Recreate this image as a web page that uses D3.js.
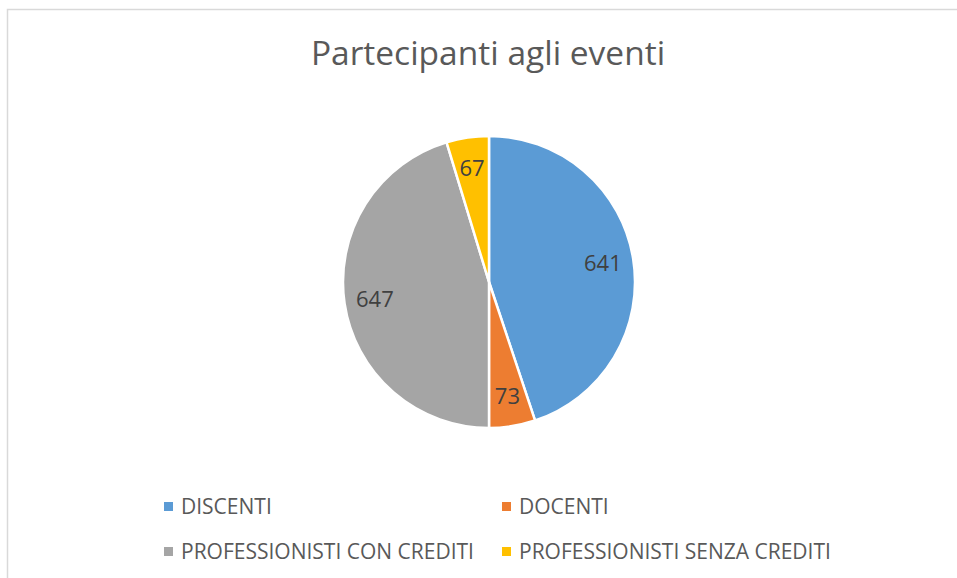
<!DOCTYPE html>
<html><head><meta charset="utf-8">
<script src="https://cdn.jsdelivr.net/npm/d3@7"></script>
<style>body{margin:0;background:#fff}svg{display:block}</style>
</head><body>
<svg id="c" width="957" height="578"></svg>
<script>
const categories = ["DISCENTI", "DOCENTI", "PROFESSIONISTI CON CREDITI", "PROFESSIONISTI SENZA CREDITI"];
const values = [641, 73, 647, 67];
const colors = ["#5B9BD5", "#ED7D31", "#A5A5A5", "#FFC000"];
const title = "Partecipanti agli eventi";

const svg = d3.select("#c");
const font = "'Open Sans', sans-serif";

svg.append("rect").attr("x", 7.5).attr("y", 9.5).attr("width", 1000).attr("height", 1000)
  .attr("fill", "#fff").attr("stroke", "#d9d9d9").attr("stroke-width", 1.5);

svg.append("text").attr("x", 488).attr("y", 65).attr("text-anchor", "middle")
  .attr("font-family", font).attr("font-size", 33.5).attr("fill", "#595959").text(title);

const cx = 489, cy = 282, r = 146;
const pie = d3.pie().sort(null).value(d => d)(values);
const arc = d3.arc().innerRadius(0).outerRadius(r);
const g = svg.append("g").attr("transform", `translate(${cx},${cy})`);
g.selectAll("path").data(pie).join("path")
  .attr("d", arc).attr("fill", (d, i) => colors[i])
  .attr("stroke", "#fff").attr("stroke-width", 2.5).attr("stroke-linejoin", "round");

const labelArc = d3.arc().innerRadius(r * 0.79).outerRadius(r * 0.79);
g.selectAll("text.lbl").data(pie).join("text").attr("class", "lbl")
  .attr("transform", d => `translate(${labelArc.centroid(d)})`)
  .attr("text-anchor", "middle").attr("dy", "0.36em")
  .attr("font-family", font).attr("font-size", 22).attr("fill", "#404040")
  .text(d => d.data);

const legX = [164, 502], legY = [506.5, 551.5];
const leg = svg.selectAll("g.leg").data(categories).join("g").attr("class", "leg")
  .attr("transform", (d, i) => `translate(${legX[i % 2]},${legY[Math.floor(i / 2)]})`);
leg.append("rect").attr("x", 0).attr("y", -4.5).attr("width", 9).attr("height", 9)
  .attr("fill", (d, i) => colors[i]);
leg.append("text").attr("x", 17).attr("dy", "0.36em")
  .attr("font-family", font).attr("font-size", 21).attr("fill", "#595959").text(d => d);
</script>
</body></html>
